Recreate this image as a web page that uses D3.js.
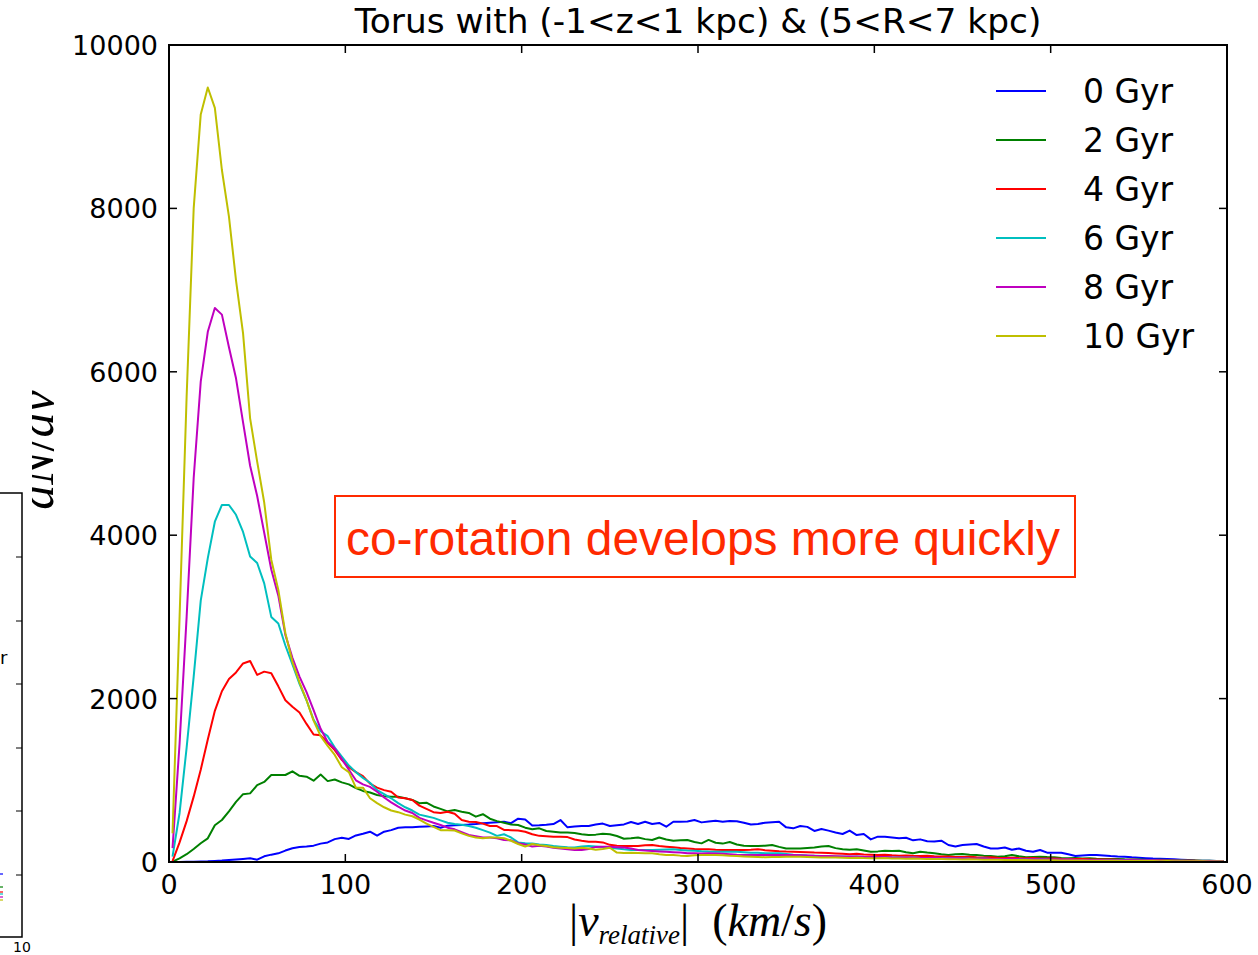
<!DOCTYPE html>
<html><head><meta charset="utf-8">
<script src="https://cdn.jsdelivr.net/npm/d3@7"></script>
<style>body{margin:0;background:#fff}svg{display:block}</style>
</head><body>
<svg id="chart" width="1258" height="955"></svg>
<script>
// ---- data ----
const binStart = 2, binWidth = 4, nBins = 150;           // velocity bin centres (km/s)
const velocity = d3.range(nBins).map(i => binStart + binWidth * i);

const seriesLabels = ["0 Gyr", "2 Gyr", "4 Gyr", "6 Gyr", "8 Gyr", "10 Gyr"];
const seriesColors = ["#0000ff", "#008000", "#ff0000", "#00bfbf", "#bf00bf", "#bfbf00"];

const gyr0 = [0,1,2,3,5,8,13,18,25,32, 38,45,28,70,90,106,140,168,183,190,
  200,225,240,280,298,282,325,345,371,322, 371,390,420,424,424,430,436,441,420,445,
  450,453,458,465,475,481,488,493,475,530, 520,447,450,455,465,514,424,435,441,441,
  460,470,441,450,460,490,465,493,465,478, 432,493,493,495,514,485,495,506,493,503,
  500,481,458,465,481,488,493,424,412,441, 430,380,404,384,360,343,384,330,343,277,
  310,310,300,290,297,265,277,255,250,261, 208,190,208,215,220,190,166,166,178,150,
  166,138,126,147,114,114,114,95,73,80, 86,86,80,73,68,65,57,52,47,43,
  41,37,33,28,24,19,16,14,12,10];
const gyr2 = [5,45,95,160,230,290,450,514,620,735, 830,840,940,980,1065,1065,1065,1110,1055,1044,
  995,1070,990,1010,975,950,905,870,850,820, 805,799,799,780,760,720,726,680,650,620,
  636,616,600,555,585,530,500,480,460,453, 420,400,412,380,371,360,360,355,340,330,
  335,345,340,318,285,290,300,280,270,300, 275,261,265,269,245,228,270,235,225,245,
  215,200,196,196,200,208,185,166,166,166, 172,178,190,
  196,170,155,150,155,140,126,130,138,135, 138,120,106,126,115,106,95,86,95,98,
  90,86,78,73,65,70,86,70,57,62, 65,60,57,50,45,48,42,45,40,38,
  36,38,33,30,32,28,26,27,24,22, 20,21,18,16,15,13,12];
const gyr4 = [10,240,500,800,1130,1500,1850,2090,2240,2320, 2430,2460,2290,2330,2310,2150,1980,1900,1830,1690,
  1560,1550,1460,1370,1250,1160,1100,1050,960,910, 880,860,790,780,760,690,650,610,600,616,
  590,514,493,490,470,440,440,392,390,385, 370,340,320,315,310,310,305,275,260,248,
  248,240,210,200,196,196,196,205,208,195, 187,180,170,166,160,157,155,150,147,147,
  147,147,150,155,145,138,132,128,126,122, 118,115,114,
  110,105,100,96,100,92,88,85,90,82, 78,80,75,72,76,70,66,68,62,60,
  63,58,55,57,52,50,53,48,46,48, 44,42,44,40,38,36,38,34,32,30,
  31,28,26,27,24,22,23,20,18,19, 16,15,14,13,12,11,10];
const gyr6 = [65,600,1400,2270,3200,3720,4165,4370,4370,4250, 4040,3740,3660,3410,3000,2920,2650,2420,2180,1980,
  1740,1600,1540,1400,1290,1180,1100,1030,970,880, 830,780,720,670,630,580,560,540,510,480,
  465,455,440,420,390,360,320,340,300,240, 230,225,215,208,195,187,180,178,190,195,
  190,185,175,165,155,147,147,147,147,150, 152,155,148,140,138,132,128,126,126,126,
  125,120,114,112,108,106,106,98,90,86, 80,76,73,
  70,68,66,64,66,62,60,58,60,56, 54,52,54,50,48,50,46,45,44,46,
  42,40,42,38,37,36,38,34,33,32, 33,30,29,28,29,26,25,24,25,22,
  21,20,21,19,18,17,18,16,15,14, 14,13,12,11,10,9,8];
const gyr8 = [170,1450,3000,4700,5880,6490,6780,6700,6300,5920, 5380,4850,4480,4030,3580,3260,2780,2500,2270,2080,
  1860,1630,1470,1390,1260,1130,1000,950,920,860, 790,730,677,630,600,540,510,480,453,420,
  400,365,330,315,300,300,290,270,265,230, 215,190,200,190,175,165,155,147,147,160,
  185,187,187,182,178,165,147,140,135,130, 126,120,115,108,106,105,106,104,100,95,
  90,87,86,85,86,86,87,85,86,84, 80,75,73,
  72,70,68,66,68,64,62,60,62,58, 56,54,56,52,50,52,48,46,45,47,
  43,41,43,39,38,37,39,35,34,33, 34,31,30,29,30,27,26,25,26,23,
  22,21,22,20,19,18,19,17,16,15, 15,14,13,12,11,10,9];
const gyr10 = [350,3000,5700,8000,9150,9480,9230,8470,7900,7120, 6470,5430,4900,4400,3700,3330,2800,2450,2200,1980,
  1730,1540,1420,1310,1160,1100,910,910,780,720, 670,630,610,580,560,520,470,430,390,390,
  385,350,320,300,290,300,300,290,260,220, 190,220,205,195,180,175,170,165,175,165,
  150,160,175,115,110,112,110,108,106,95, 86,85,78,73,82,86,85,86,84,76,
  72,68,65,62,58,60,62,64,65,63, 60,58,56,
  55,54,52,50,53,49,47,45,48,44, 42,40,43,39,37,36,38,34,33,31,
  33,30,28,27,29,25,24,23,25,22, 21,20,22,19,18,17,19,16,15,15,
  16,14,13,12,13,11,11,10,11,9, 9,8,9,8,7,7,6];
const seriesValues = [gyr0, gyr2, gyr4, gyr6, gyr8, gyr10];

const xTicks = [0, 100, 200, 300, 400, 500, 600];
const yTicks = [0, 2000, 4000, 6000, 8000, 10000];
const titleText = "Torus with (-1<z<1 kpc) & (5<R<7 kpc)";
const noteText = "co-rotation develops more quickly";

// ---- layout ----
const svg = d3.select("#chart");
const L = 169, R = 1227, T = 45, B = 862;
const x = d3.scaleLinear().domain([0, 600]).range([L, R]);
const y = d3.scaleLinear().domain([0, 10000]).range([B, T]);
const tickFont = "DejaVu Sans";

function fitWidth(sel, target) {
  const w = sel.node().getBBox().width;
  const fs = parseFloat(sel.attr("font-size"));
  sel.attr("font-size", fs * target / w);
}

// y label (partially cut by the neighbouring panel)
const yl = svg.append("text").attr("transform", "translate(53,450) rotate(-90)")
  .attr("text-anchor", "middle").attr("font-family", "Liberation Serif").attr("font-size", 50);
yl.append("tspan").attr("font-style", "italic").text("dN");
yl.append("tspan").text("/");
yl.append("tspan").attr("font-style", "italic").text("dv");
svg.append("rect").attr("x", 0).attr("y", 370).attr("width", 32).attr("height", 585).attr("fill", "#fff");

// neighbouring panel fragment
const frag = svg.append("g");
frag.append("path").attr("d", "M0,493H22V937H0").attr("fill", "none").attr("stroke", "#000").attr("stroke-width", 1.5);
[557, 621, 684, 748, 811, 875].forEach(t => frag.append("line").attr("x1", 16).attr("x2", 22).attr("y1", t).attr("y2", t).attr("stroke", "#000").attr("stroke-width", 1));
frag.append("text").attr("x", 0).attr("y", 664).attr("font-family", tickFont).attr("font-size", 18).text("r");
frag.append("text").attr("x", 22).attr("y", 952).attr("text-anchor", "middle").attr("font-family", tickFont).attr("font-size", 14).text("10");
[874, 887, 892, 894, 897, 900].forEach((t, i) => frag.append("line").attr("x1", 0).attr("x2", 3).attr("y1", t).attr("y2", t).attr("stroke", seriesColors[i]).attr("stroke-width", 1.2));

// lines
const line = d3.line().x((d, i) => x(velocity[i])).y(d => y(d));
seriesValues.forEach((vals, i) => {
  svg.append("path").datum(vals).attr("d", line).attr("fill", "none")
    .attr("stroke", seriesColors[i]).attr("stroke-width", 2).attr("stroke-linejoin", "round");
});

// frame
svg.append("rect").attr("x", L).attr("y", T).attr("width", R - L).attr("height", B - T)
  .attr("fill", "none").attr("stroke", "#000").attr("stroke-width", 2);

// ticks (inward on all sides)
const tk = 8;
xTicks.forEach(t => {
  svg.append("line").attr("x1", x(t)).attr("x2", x(t)).attr("y1", B).attr("y2", B - tk).attr("stroke", "#000").attr("stroke-width", 1.5);
  svg.append("line").attr("x1", x(t)).attr("x2", x(t)).attr("y1", T).attr("y2", T + tk).attr("stroke", "#000").attr("stroke-width", 1.5);
  svg.append("text").attr("x", x(t)).attr("y", B + 32).attr("text-anchor", "middle")
    .attr("font-family", tickFont).attr("font-size", 27).text(t);
});
yTicks.forEach(t => {
  svg.append("line").attr("x1", L).attr("x2", L + tk).attr("y1", y(t)).attr("y2", y(t)).attr("stroke", "#000").attr("stroke-width", 1.5);
  svg.append("line").attr("x1", R).attr("x2", R - tk).attr("y1", y(t)).attr("y2", y(t)).attr("stroke", "#000").attr("stroke-width", 1.5);
  svg.append("text").attr("x", L - 11).attr("y", y(t) + 10).attr("text-anchor", "end")
    .attr("font-family", tickFont).attr("font-size", 27).text(t);
});

// title
const title = svg.append("text").attr("x", (L + R) / 2).attr("y", 33).attr("text-anchor", "middle")
  .attr("font-family", tickFont).attr("font-size", 30).text(titleText);
fitWidth(title, 688);

// x label
const xl = svg.append("text").attr("x", 698).attr("y", 936).attr("text-anchor", "middle")
  .attr("font-family", "Liberation Serif").attr("font-size", 38);
xl.append("tspan").text("|");
xl.append("tspan").attr("font-style", "italic").text("v");
xl.append("tspan").attr("font-style", "italic").attr("font-size", 27).attr("dy", 8).text("relative");
xl.append("tspan").attr("dy", -8).text("|\u2002(");
xl.append("tspan").attr("font-style", "italic").text("km");
xl.append("tspan").text("/");
xl.append("tspan").attr("font-style", "italic").text("s");
xl.append("tspan").text(")");
fitWidth(xl, 275);

// legend
seriesLabels.forEach((lab, i) => {
  const ly = 91 + 49 * i;
  svg.append("line").attr("x1", 996).attr("x2", 1046).attr("y1", ly).attr("y2", ly)
    .attr("stroke", seriesColors[i]).attr("stroke-width", 2);
  svg.append("text").attr("x", 1083).attr("y", ly + 12).attr("font-family", tickFont)
    .attr("font-size", 33).text(lab);
});

// annotation
svg.append("rect").attr("x", 335).attr("y", 496).attr("width", 740).attr("height", 81)
  .attr("fill", "#fff").attr("stroke", "#ff2a00").attr("stroke-width", 2);
const note = svg.append("text").attr("x", 346).attr("y", 555).attr("font-family", "Liberation Sans")
  .attr("font-size", 48).attr("fill", "#ff2a00").text(noteText);
fitWidth(note, 714);
</script>
</body></html>
